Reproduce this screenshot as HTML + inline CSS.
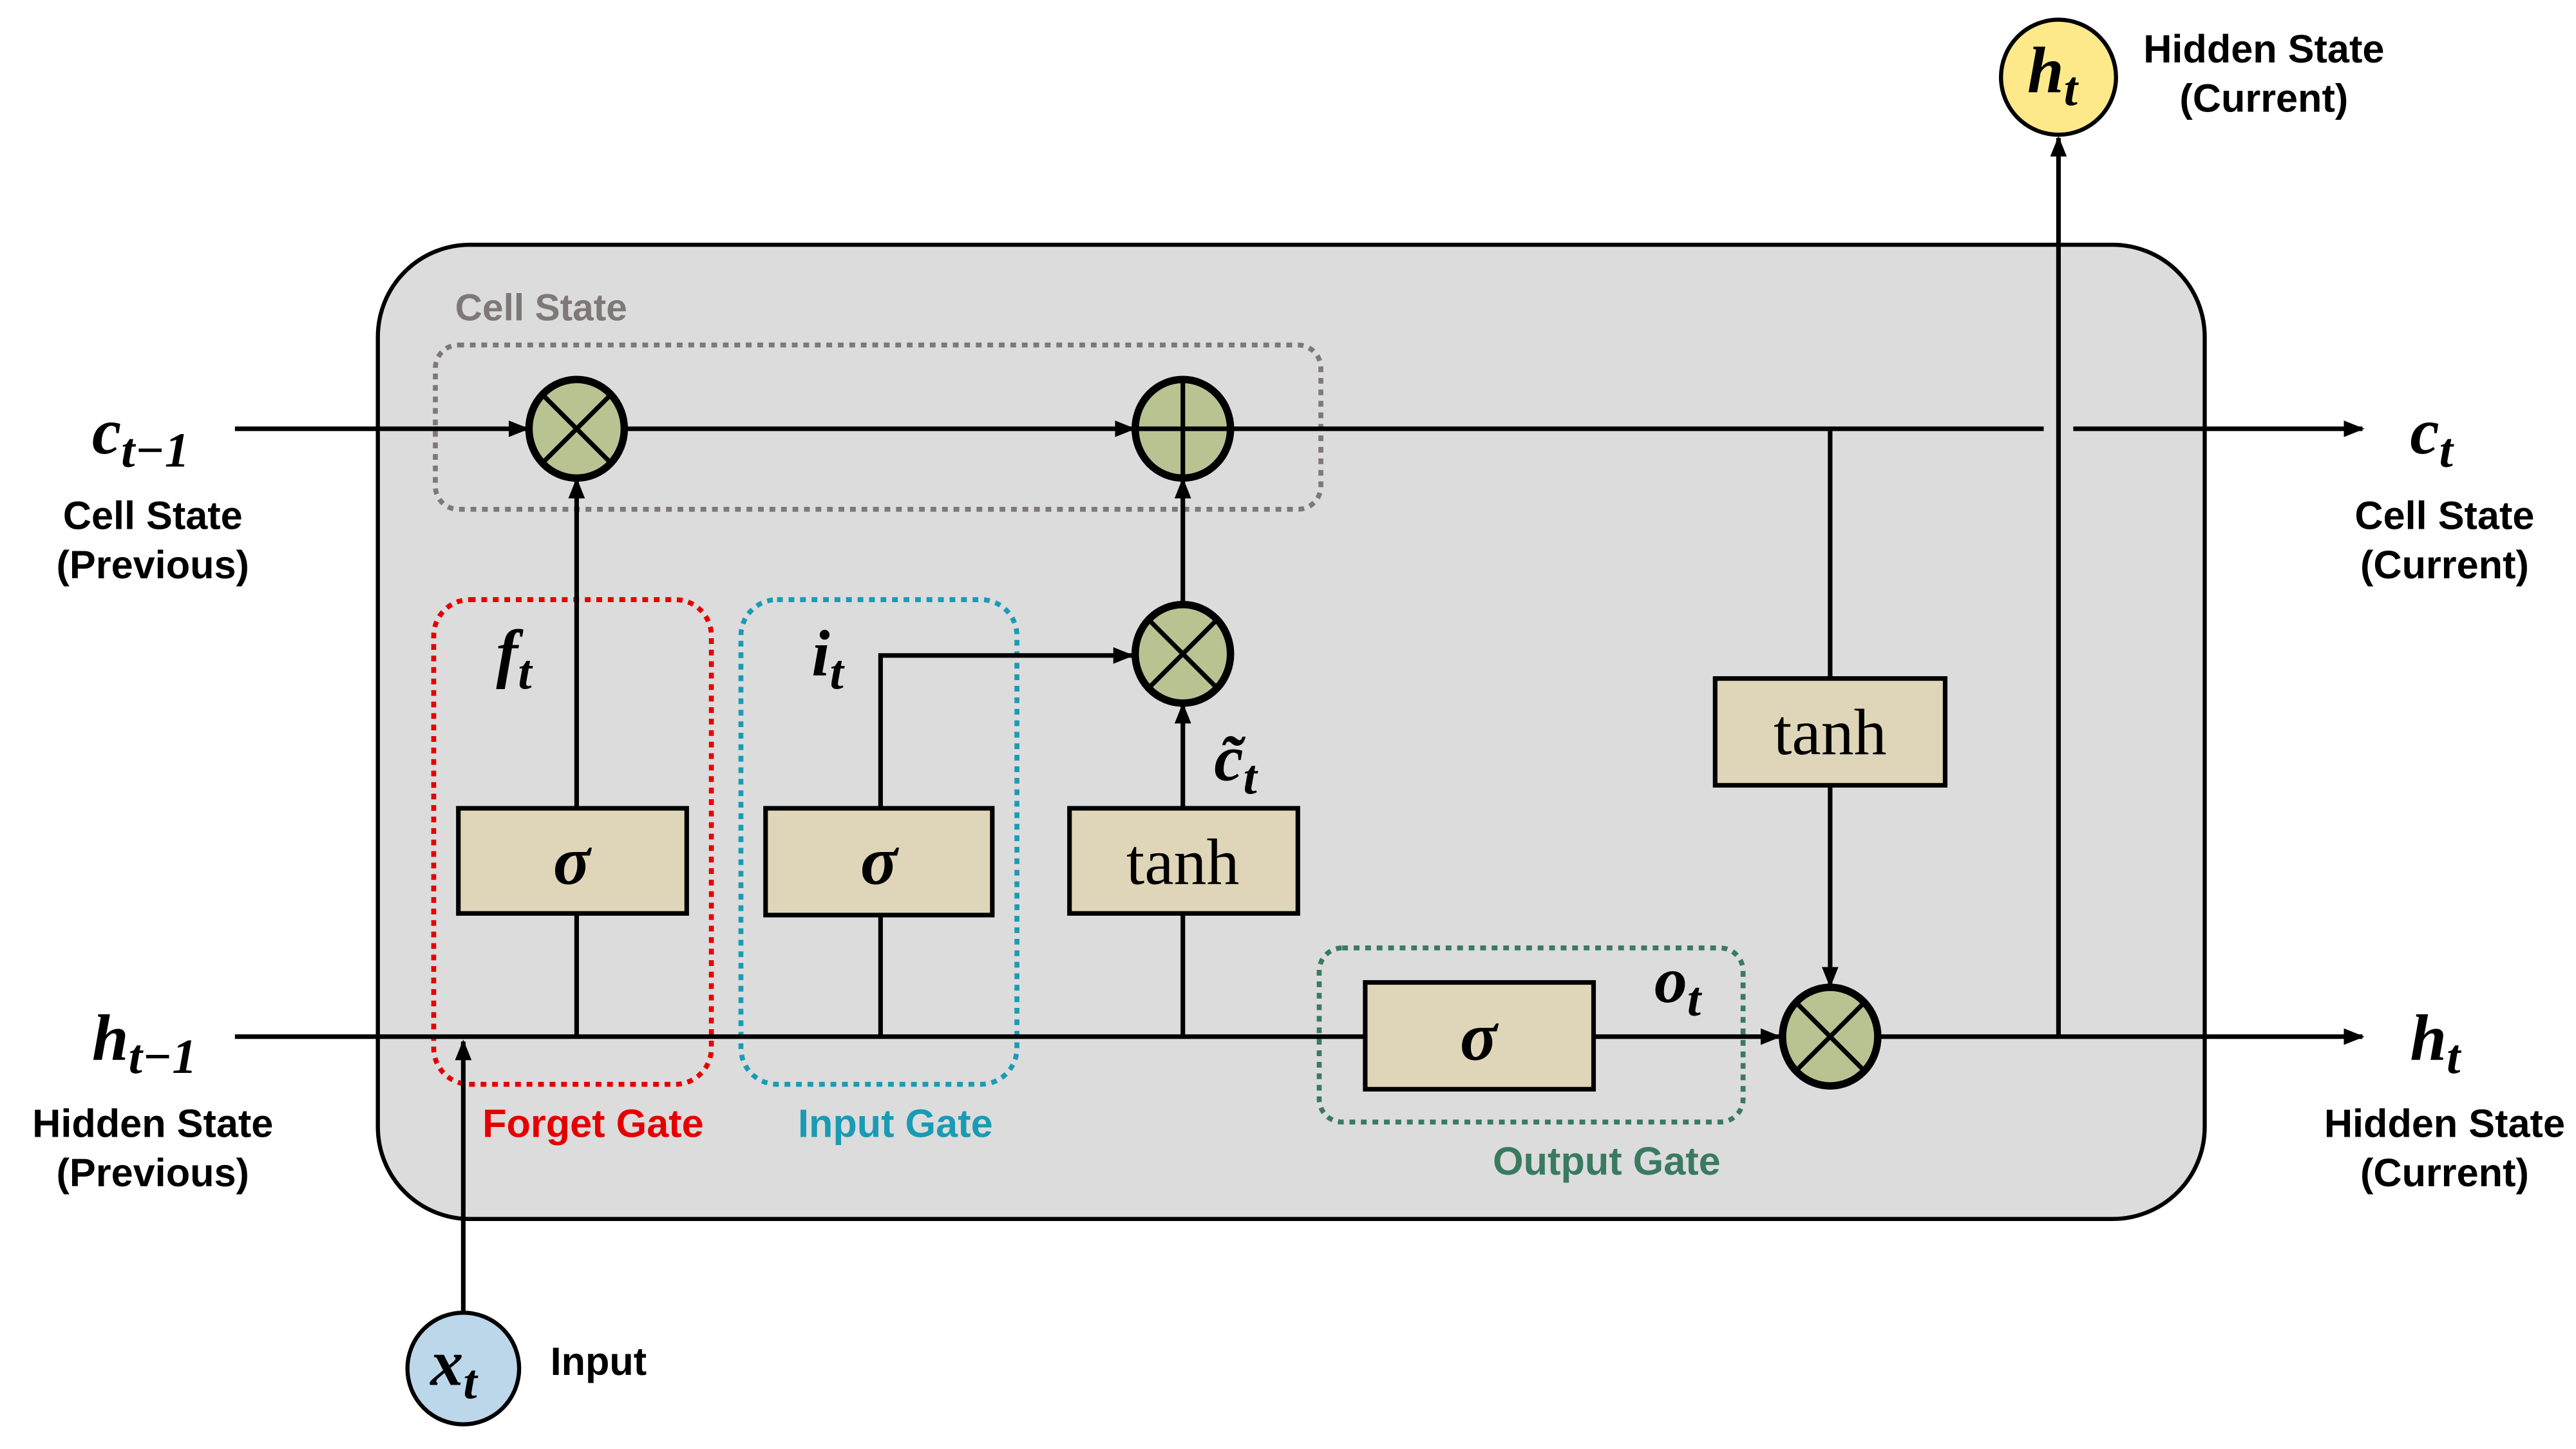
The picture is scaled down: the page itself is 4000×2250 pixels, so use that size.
<!DOCTYPE html>
<html><head><meta charset="utf-8"><style>
html,body{margin:0;padding:0;background:#fff;}
svg{display:block;}
.lbl{font-family:"Liberation Sans",sans-serif;font-weight:bold;font-size:24px;text-anchor:middle;}
.m{font-family:"Liberation Serif",serif;font-weight:bold;font-style:italic;}
.bx{fill:#dfd5b8;stroke:#000;stroke-width:2.8;}
.op{fill:#b8c391;stroke:#000;stroke-width:4.5;}
.ln{stroke:#000;stroke-width:2.8;fill:none;}
</style></head><body>
<svg width="4000" height="2250" viewBox="0 0 1568 882" xmlns="http://www.w3.org/2000/svg">
<defs><marker id="a" viewBox="0 0 10 10" refX="9" refY="5" markerWidth="4.5" markerHeight="4.5" orient="auto" markerUnits="strokeWidth"><path d="M0,1 L10,5 L0,9 z" fill="#000"/></marker></defs>
<rect x="0" y="0" width="1568" height="882" fill="#fff"/>
<rect x="230" y="149" width="1112" height="593" rx="56" fill="#dcdcdc" stroke="#000" stroke-width="2.5"/>
<rect x="265" y="210" width="539" height="100" rx="14" fill="none" stroke="#7f7878" stroke-width="3" stroke-dasharray="3.5 3.5"/>
<text x="277" y="195" font-family="Liberation Sans,sans-serif" font-weight="bold" font-size="23" fill="#7f7878">Cell State</text>
<rect x="264" y="365" width="169" height="295" rx="22" fill="none" stroke="#e50000" stroke-width="3" stroke-dasharray="3.5 3.5"/>
<rect x="451" y="365" width="168" height="295" rx="22" fill="none" stroke="#1a9bb5" stroke-width="3" stroke-dasharray="3.5 3.5"/>
<rect x="803" y="577" width="258" height="106" rx="14" fill="none" stroke="#3a7a60" stroke-width="3" stroke-dasharray="3.5 3.5"/>
<line class="ln" x1="143" y1="261" x2="321" y2="261" marker-end="url(#a)"/>
<line class="ln" x1="380" y1="261" x2="690" y2="261" marker-end="url(#a)"/>
<line class="ln" x1="749" y1="261" x2="1244" y2="261"/>
<line class="ln" x1="1262" y1="261" x2="1438" y2="261" marker-end="url(#a)"/>
<line class="ln" x1="143" y1="631" x2="831" y2="631"/>
<line class="ln" x1="970" y1="631" x2="1083" y2="631" marker-end="url(#a)"/>
<line class="ln" x1="1143" y1="631" x2="1438" y2="631" marker-end="url(#a)"/>
<line class="ln" x1="351" y1="631" x2="351" y2="556"/>
<line class="ln" x1="351" y1="492" x2="351" y2="292" marker-end="url(#a)"/>
<line class="ln" x1="536" y1="631" x2="536" y2="557"/>
<path class="ln" d="M536,492 L536,399 L689,399" marker-end="url(#a)"/>
<line class="ln" x1="720" y1="631" x2="720" y2="556"/>
<line class="ln" x1="720" y1="492" x2="720" y2="429" marker-end="url(#a)"/>
<line class="ln" x1="720" y1="369" x2="720" y2="292" marker-end="url(#a)"/>
<line class="ln" x1="1114" y1="261" x2="1114" y2="413"/>
<line class="ln" x1="1114" y1="478" x2="1114" y2="600" marker-end="url(#a)"/>
<line class="ln" x1="1253" y1="631" x2="1253" y2="84" marker-end="url(#a)"/>
<line class="ln" x1="282" y1="799" x2="282" y2="634" marker-end="url(#a)"/>
<rect class="bx" x="279" y="492" width="139" height="64"/>
<rect class="bx" x="466" y="492" width="138" height="65"/>
<rect class="bx" x="651" y="492" width="139" height="64"/>
<rect class="bx" x="1044" y="413" width="140" height="65"/>
<rect class="bx" x="831" y="598" width="139" height="65"/>
<text class="m" x="348" y="538" font-size="42" text-anchor="middle">σ</text>
<text class="m" x="535" y="538" font-size="42" text-anchor="middle">σ</text>
<text class="m" x="900" y="645" font-size="42" text-anchor="middle">σ</text>
<text x="720" y="538" font-family="Liberation Serif,serif" font-size="40" text-anchor="middle">tanh</text>
<text x="1114" y="459" font-family="Liberation Serif,serif" font-size="40" text-anchor="middle">tanh</text>
<g class="op"><ellipse cx="351" cy="261" rx="29" ry="30"/><ellipse cx="720" cy="261" rx="29" ry="30"/><ellipse cx="720" cy="398" rx="29" ry="30"/><ellipse cx="1114" cy="631" rx="29" ry="30"/></g>
<g class="ln" stroke-width="3.2">
<path d="M331,241 L371,281 M371,241 L331,281"/>
<path d="M691,261 L749,261 M720,231 L720,291"/>
<path d="M700,378 L740,418 M740,378 L700,418"/>
<path d="M1094,611 L1134,651 M1134,611 L1094,651"/>
</g>
<circle cx="1253" cy="47" r="35" fill="#fde98a" stroke="#000" stroke-width="2.5"/>
<circle cx="282" cy="833" r="34" fill="#bcd6ea" stroke="#000" stroke-width="2.5"/>
<text class="m" x="56" y="276" font-size="40">c<tspan font-size="30" dy="8">t−1</tspan></text>
<text class="m" x="56" y="645" font-size="40">h<tspan font-size="30" dy="8">t−1</tspan></text>
<text class="m" x="1467" y="276" font-size="40">c<tspan font-size="30" dy="8">t</tspan></text>
<text class="m" x="1467" y="645" font-size="40">h<tspan font-size="30" dy="8">t</tspan></text>
<text class="m" x="1234" y="56" font-size="40">h<tspan font-size="30" dy="8">t</tspan></text>
<text class="m" x="262" y="843" font-size="40">x<tspan font-size="30" dy="8">t</tspan></text>
<text class="m" x="302" y="411" font-size="40">f<tspan font-size="30" dy="8">t</tspan></text>
<text class="m" x="494" y="411" font-size="40">i<tspan font-size="30" dy="8">t</tspan></text>
<text class="m" x="739" y="475" font-size="40">c̃<tspan font-size="30" dy="8">t</tspan></text>
<text class="m" x="1007" y="610" font-size="40">o<tspan font-size="30" dy="8">t</tspan></text>
<text class="lbl" x="93" y="322">Cell State</text>
<text class="lbl" x="93" y="352">(Previous)</text>
<text class="lbl" x="93" y="692">Hidden State</text>
<text class="lbl" x="93" y="722">(Previous)</text>
<text class="lbl" x="1488" y="322">Cell State</text>
<text class="lbl" x="1488" y="352">(Current)</text>
<text class="lbl" x="1488" y="692">Hidden State</text>
<text class="lbl" x="1488" y="722">(Current)</text>
<text class="lbl" x="1378" y="38">Hidden State</text>
<text class="lbl" x="1378" y="68">(Current)</text>
<text class="lbl" x="335" y="837" style="text-anchor:start">Input</text>
<text class="lbl" x="361" y="692" fill="#e50000">Forget Gate</text>
<text class="lbl" x="545" y="692" fill="#1a9bb5">Input Gate</text>
<text class="lbl" x="978" y="715" fill="#3a7a60">Output Gate</text>
</svg>
</body></html>
